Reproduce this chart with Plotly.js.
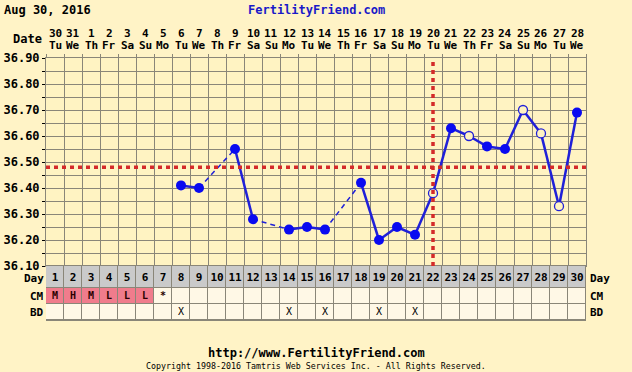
<!DOCTYPE html>
<html><head><meta charset="utf-8">
<script src="https://cdn.plot.ly/plotly-3.0.1.min.js"></script>
<style>html,body{margin:0;padding:0;background:#FFF3C6;}</style>
</head><body>
<div id="chart" style="width:632px;height:372px;"></div>
<script>
// ---- data ----
const dayNums = [1,2,3,4,5,6,7,8,9,10,11,12,13,14,15,16,17,18,19,20,21,22,23,24,25,26,27,28,29,30];
const dateLabels = ['30','31','1','2','3','4','5','6','7','8','9','10','11','12','13','14','15','16','17','18','19','20','21','22','23','24','25','26','27','28'];
const weekdays = ['Tu','We','Th','Fr','Sa','Su','Mo','Tu','We','Th','Fr','Sa','Su','Mo','Tu','We','Th','Fr','Sa','Su','Mo','Tu','We','Th','Fr','Sa','Su','Mo','Tu','We'];
const tempDays = [8,9,11,12,14,15,16,18,19,20,21,22,23,24,25,26,27,28,29,30];
const temps    = [36.41,36.40,36.55,36.28,36.24,36.25,36.24,36.42,36.20,36.25,36.22,36.38,36.63,36.60,36.56,36.55,36.70,36.61,36.33,36.69];
const openDays = [22,24,27,28,29];
const tempTicks = [36.10,36.20,36.30,36.40,36.50,36.60,36.70,36.80,36.90];
const coverline = 36.48;
const ovulationDay = 22;
const cmDays  = [1,2,3,4,5,6,7];
const cmMarks = ['M','H','M','L','L','L','*'];
const flowDays = [1,2,3,4,5,6];
const bdDays = [8,14,16,19,21];
const rowNames = ['Day','CM','BD'];

// ---- style ----
const FONT = 'DejaVu Sans Mono, Liberation Mono, monospace';
const GRID = '#8A8678';
const BLUE = '#2020D8';
const RED = '#D42A2A';
const BG = '#FFF3C6';
const PLOTBG = '#FFF3C2';
const CREAM = '#FFF8E6';
const GRAY = '#CACACA';
const PINK = '#F07C8C';
const tableFrac = 54/262;
const rowEdges = [0,22,38,54];
const rowMid = [12,30,46];

// temperature line segments
const sx=[], sy=[], dx=[], dy=[];
for (let i=0;i<tempDays.length-1;i++){
  const a=tempDays[i], b=tempDays[i+1];
  if (b-a===1){ sx.push(a,b,null); sy.push(temps[i],temps[i+1],null); }
  else { dx.push(a,b,null); dy.push(temps[i],temps[i+1],null); }
}
const fx=[],fy=[],ox=[],oy=[];
tempDays.forEach((d,i)=>{ if(openDays.includes(d)){ox.push(d);oy.push(temps[i]);} else {fx.push(d);fy.push(temps[i]);} });

// table z
const z = [
  dayNums.map(()=>1),
  dayNums.map(d=>flowDays.includes(d)?2:0),
  dayNums.map(()=>0)
];

const traces = [
  {type:'heatmap', x:dayNums, y:rowEdges, z:z, xaxis:'x2', yaxis:'y3', zmin:0, zmax:2, showscale:false, xgap:1, ygap:1, hoverinfo:'skip',
   colorscale:[[0,CREAM],[0.33,CREAM],[0.34,GRAY],[0.66,GRAY],[0.67,PINK],[1,PINK]]},
  {type:'scatter', mode:'text', x:dayNums, y:dayNums.map(()=>rowMid[0]), text:dayNums.map(String), xaxis:'x2', yaxis:'y3',
   textfont:{family:FONT, size:11, color:'#000', weight:700}, hoverinfo:'skip'},
  {type:'scatter', mode:'text', x:cmDays, y:cmDays.map(()=>rowMid[1]), text:cmMarks, xaxis:'x2', yaxis:'y3',
   textfont:{family:FONT, size:10, color:'#2a0000', weight:700}, hoverinfo:'skip'},
  {type:'scatter', mode:'text', x:bdDays, y:bdDays.map(()=>rowMid[2]), text:bdDays.map(()=>'X'), xaxis:'x2', yaxis:'y3',
   textfont:{family:FONT, size:10, color:'#000'}, hoverinfo:'skip'},
  {type:'scatter', mode:'lines', x:dx, y:dy, line:{color:BLUE, width:1.5, dash:'5px,4px'}, hoverinfo:'skip', connectgaps:false},
  {type:'scatter', mode:'lines', x:sx, y:sy, line:{color:BLUE, width:2.5}, hoverinfo:'skip', connectgaps:false},
  {type:'scatter', mode:'markers', x:fx, y:fy, marker:{color:'#0A0AF0', size:10, line:{width:0}}},
  {type:'scatter', mode:'markers', x:ox, y:oy, marker:{color:PLOTBG, size:9, line:{color:BLUE, width:1.3}}}
];

const ann = [];
dayNums.forEach((d,i)=>{
  ann.push({x:d, xref:'x', y:1, yref:'paper', yanchor:'middle', yshift:25, text:dateLabels[i], showarrow:false, borderpad:0,
    font:{family:FONT, size:11, color:'#000', weight:700}});
  ann.push({x:d, xref:'x', y:1, yref:'paper', yanchor:'middle', yshift:13, text:weekdays[i], showarrow:false, borderpad:0,
    font:{family:FONT, size:11, color:'#000', weight:700}});
});
ann.push({x:0, xref:'paper', xanchor:'right', xshift:-2, y:1, yref:'paper', yanchor:'middle', yshift:19, text:'Date', showarrow:false,
  font:{family:FONT, size:12, color:'#000', weight:700}});
rowNames.forEach((r,i)=>{
  ann.push({x:0, xref:'paper', xanchor:'right', xshift:-1, y:rowMid[i], yref:'y3', yanchor:'middle', text:r, showarrow:false, borderpad:0,
    font:{family:FONT, size:11, color:'#000', weight:700}});
  ann.push({x:1, xref:'paper', xanchor:'left', xshift:3, y:rowMid[i], yref:'y3', yanchor:'middle', text:r, showarrow:false, borderpad:0,
    font:{family:FONT, size:11, color:'#000', weight:700}});
});
ann.push({x:0, xref:'paper', xanchor:'left', xshift:-44, y:1, yref:'paper', yanchor:'middle', yshift:48, text:'Aug 30, 2016', showarrow:false,
  font:{family:FONT, size:12, color:'#000', weight:700}});
ann.push({x:0.5, xref:'paper', xanchor:'center', y:1, yref:'paper', yanchor:'middle', yshift:48, text:'FertilityFriend.com', showarrow:false,
  font:{family:FONT, size:12, color:'#1A1AC8', weight:700}});
ann.push({x:0.5, xref:'paper', xanchor:'center', y:0, yref:'paper', yanchor:'middle', yshift:-33, text:'http://www.FertilityFriend.com', showarrow:false,
  font:{family:FONT, size:12, color:'#000', weight:700}});
ann.push({x:0.5, xref:'paper', xanchor:'center', y:0, yref:'paper', yanchor:'middle', yshift:-46, text:'Copyright 1998-2016 Tamtris Web Services Inc. - All Rights Reserved.', showarrow:false,
  font:{family:FONT, size:8.3, color:'#000'}});

const layout = {
  width:632, height:372,
  margin:{l:46, r:46, t:58, b:52, pad:0},
  paper_bgcolor:BG, plot_bgcolor:PLOTBG,
  showlegend:false,
  xaxis:{domain:[0,1], range:[0.5,30.5], anchor:'y', side:'top', tickmode:'linear', tick0:0.5, dtick:1,
    showticklabels:false, ticks:'outside', ticklen:3, tickcolor:GRID, showgrid:true, gridcolor:GRID, gridwidth:1,
    zeroline:false, showline:true, linecolor:GRID, mirror:true, fixedrange:true},
  yaxis:{domain:[tableFrac,1], range:[36.1,36.9], anchor:'x', tickmode:'array', tickvals:tempTicks, tickformat:'.2f',
    ticks:'outside', ticklen:3, tickcolor:'#000', showgrid:true, gridcolor:GRID, gridwidth:1,
    minor:{tick0:36.1, dtick:0.05, showgrid:true, gridcolor:GRID, gridwidth:1, ticks:'outside', ticklen:3, tickcolor:'#000'},
    tickfont:{family:FONT, size:12, color:'#000', weight:700},
    zeroline:false, showline:true, linecolor:GRID, mirror:true, fixedrange:true},
  yaxis2:{overlaying:'y', side:'right', anchor:'x', range:[36.1,36.9], tickmode:'array', tickvals:tempTicks, tickformat:'.2f',
    ticks:'outside', ticklen:3, tickcolor:'#000', showgrid:false, zeroline:false,
    tickfont:{family:FONT, size:12, color:'#000', weight:700}, fixedrange:true},
  xaxis2:{domain:[0,1], range:[0.5,30.5], anchor:'y3', showticklabels:false, ticks:'', showgrid:false, zeroline:false,
    showline:true, linecolor:GRID, mirror:true, fixedrange:true},
  yaxis3:{domain:[0,tableFrac], range:[54,0], anchor:'x2', showticklabels:false, ticks:'', showgrid:false, zeroline:false,
    showline:false, fixedrange:true},
  shapes:[
    {type:'rect', xref:'x2 domain', yref:'y3 domain', x0:0, x1:1, y0:0, y1:1, fillcolor:GRID, line:{width:0}, layer:'below'},
    {type:'line', xref:'x', yref:'y', x0:0.5, x1:30.5, y0:coverline, y1:coverline, line:{color:RED, width:3.5, dash:'4px,4px'}},
    {type:'line', xref:'x', yref:'y', x0:ovulationDay, x1:ovulationDay, y0:36.1, y1:36.9, line:{color:RED, width:3.5, dash:'4px,4px'}}
  ],
  annotations:ann
};

Plotly.newPlot('chart', traces, layout, {displayModeBar:false, staticPlot:true});
</script>
</body></html>
